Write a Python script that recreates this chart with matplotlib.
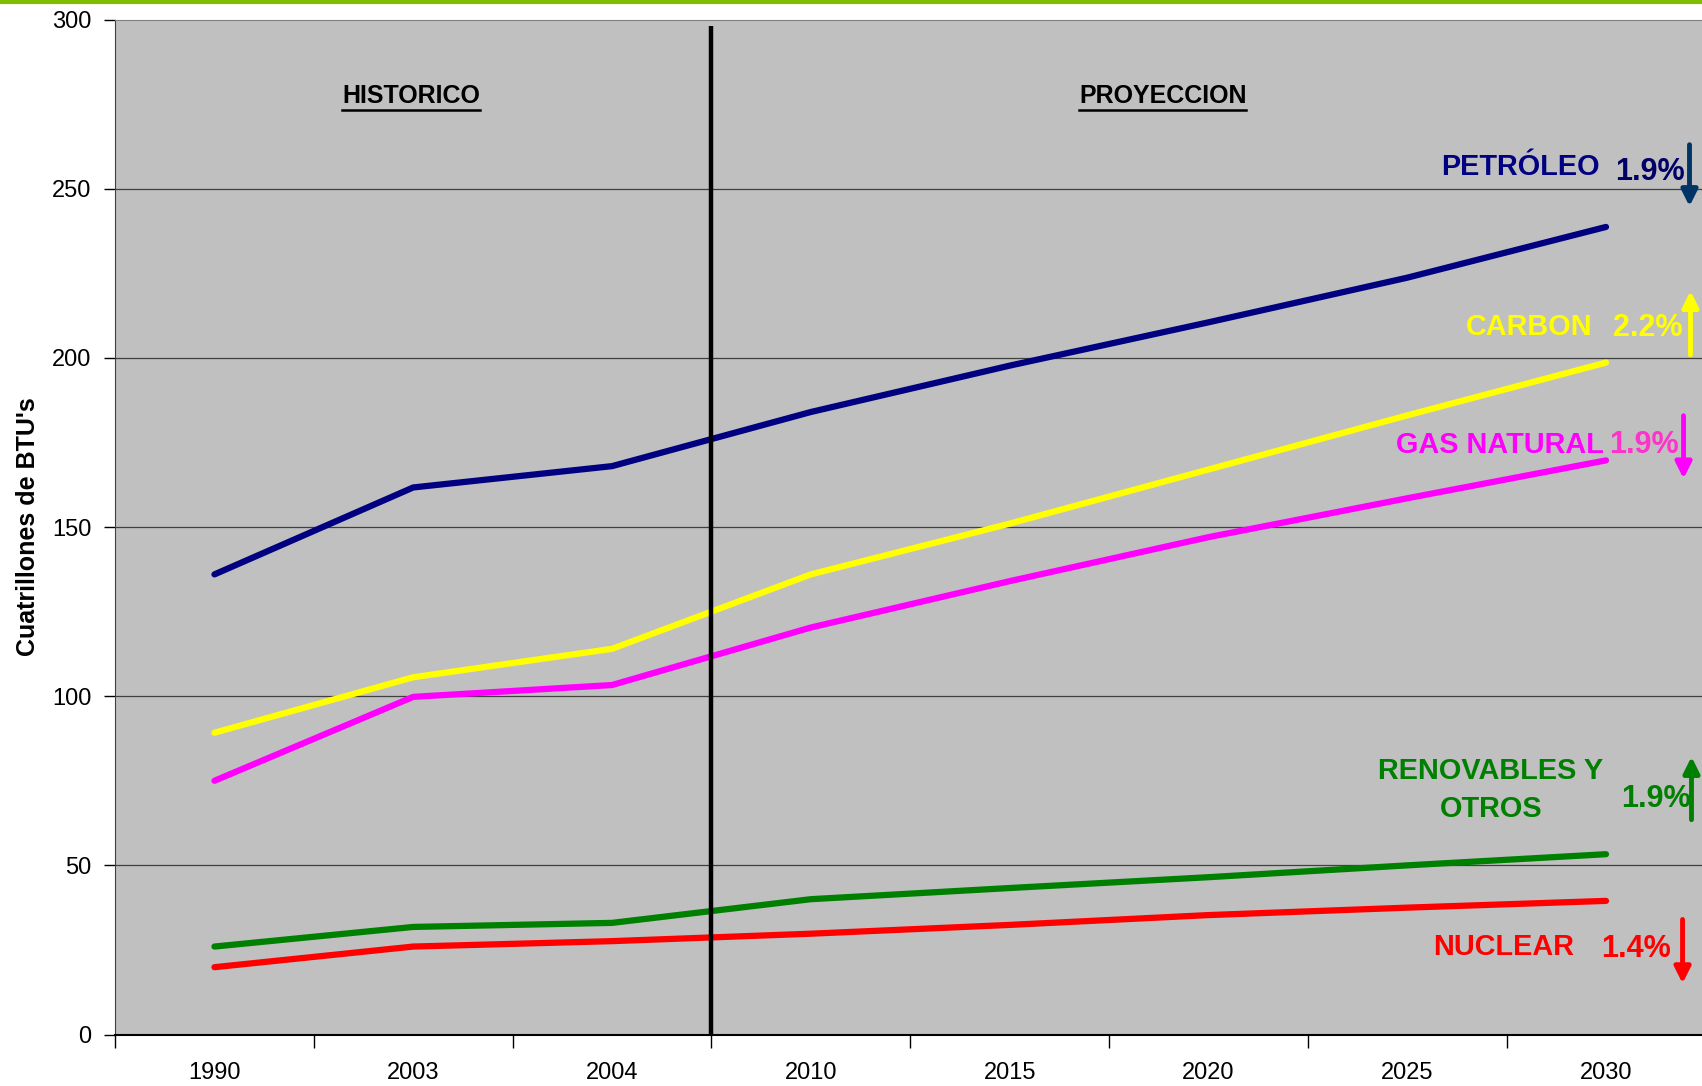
import matplotlib
matplotlib.use("Agg")
import matplotlib.pyplot as plt
from matplotlib.lines import Line2D
import numpy as np

# ---- data ----
categories = ["1990", "2003", "2004", "2010", "2015", "2020", "2025", "2030"]
petroleo = [136, 161.7, 168, 184, 197.7, 210.5, 223.7, 238.7]
carbon = [89.2, 105.6, 114, 136, 151, 167, 183, 198.6]
gas_natural = [75, 99.8, 103.3, 120.3, 134, 147, 158.5, 169.7]
renovables = [26, 31.8, 33, 40, 43.3, 46.5, 50, 53.3]
nuclear = [19.9, 26, 27.6, 29.8, 32.4, 35.3, 37.5, 39.5]

series_names = ["PETRÓLEO", "CARBON", "GAS NATURAL", "RENOVABLES Y\nOTROS", "NUCLEAR"]
series_values = [petroleo, carbon, gas_natural, renovables, nuclear]
series_colors = ["#000080", "#FFFF00", "#FF00FF", "#008000", "#FF0000"]
growth_labels = ["1.9%", "2.2%", "1.9%", "1.9%", "1.4%"]
growth_colors = ["#000066", "#FFFF00", "#FF33CC", "#008000", "#FF0000"]
arrow_colors = ["#003366", "#FFFF00", "#FF00FF", "#008000", "#FF0000"]

yticks = [0, 50, 100, 150, 200, 250, 300]

plt.rcParams['font.family'] = ['Liberation Sans', 'DejaVu Sans']

fig = plt.figure(figsize=(17.02, 10.86), dpi=100)
fig.patch.set_facecolor("white")
ax = fig.add_axes([0.0676, 0.0474, 0.9344, 0.9346])
ax.set_facecolor("#C0C0C0")

x = np.arange(len(categories))
ax.set_xlim(-0.5, len(categories) - 0.5)
ax.set_ylim(0, 300)

for v in [50, 100, 150, 200, 250]:
    ax.axhline(v, color="#404040", lw=0.9, zorder=1)

for vals, col in zip(series_values, series_colors):
    ax.plot(x, vals, color=col, lw=4.5, solid_capstyle="round", zorder=3)

# divider between historical and projection
ax.plot([2.5, 2.5], [0, 298], color="black", lw=3.2, zorder=4, solid_capstyle="butt")

# axes styling
ax.spines["right"].set_visible(False)
ax.spines["top"].set_color("#808080")
ax.spines["left"].set_color("#404040")
ax.spines["bottom"].set_color("black")
ax.spines["bottom"].set_linewidth(1.5)

ax.set_yticks(yticks)
ax.set_yticklabels([str(t) for t in yticks], fontsize=17)
ax.tick_params(axis="y", direction="out", length=8, width=1, pad=9, colors="black")

ax.set_xticks(x)
ax.set_xticklabels(categories, fontsize=17)
ax.set_xticks(np.arange(-0.5, len(categories) + 0.5, 1), minor=True)
ax.tick_params(axis="x", which="major", length=0, pad=20)
ax.tick_params(axis="x", which="minor", length=9, width=1, direction="out")

ax.set_ylabel("Cuatrillones de BTU's", fontsize=18, fontweight="bold", labelpad=9)

# section titles
t1 = ax.text(0.99, 277.5, "HISTORICO", ha="center", va="center", fontsize=18, fontweight="bold")
t2 = ax.text(4.77, 277.5, "PROYECCION", ha="center", va="center", fontsize=18, fontweight="bold")

# right-side labels
name_fs = 20.8
label_pos = [(6.97, 256.4, "right"), (6.93, 209.2, "right"), (6.99, 174.2, "right"),
             (6.42, 0, "center"), (6.84, 26, "right")]
for (lx, ly, ha), name, col in zip(label_pos, series_names, series_colors):
    if "\n" in name:
        l1, l2 = name.split("\n")
        ax.text(lx, 78.0, l1, ha="center", va="center", fontsize=name_fs, fontweight="bold", color=col)
        ax.text(lx, 66.7, l2, ha="center", va="center", fontsize=name_fs, fontweight="bold", color=col)
    else:
        ax.text(lx, ly, name, ha=ha, va="center", fontsize=name_fs, fontweight="bold", color=col)

growth_pos = [(7.22, 254.8), (7.21, 208.8), (7.19, 174.2), (7.25, 69.5), (7.15, 25.4)]
for (gx, gy), g, col in zip(growth_pos, growth_labels, growth_colors):
    ax.text(gx, gy, g, ha="center", va="center", fontsize=22, fontweight="bold", color=col)

arrow_pos = [(7.42, 263, 244.8), (7.425, 200.9, 219.8), (7.39, 182.9, 164.3),
             (7.43, 63.5, 82.1), (7.385, 34, 15.1)]
for (axx, y0, y1), col in zip(arrow_pos, arrow_colors):
    ax.annotate("", xy=(axx, y1), xytext=(axx, y0),
                arrowprops=dict(arrowstyle="-|>", color=col, lw=3.5, mutation_scale=24,
                                shrinkA=0, shrinkB=0),
                annotation_clip=False, zorder=5)

# top green rule
fig.add_artist(Line2D([0, 1], [0.9985, 0.9985], color="#80BC00", lw=3, transform=fig.transFigure))

# underline section titles
fig.canvas.draw()
r = fig.canvas.get_renderer()
for t in (t1, t2):
    bb = t.get_window_extent(r).transformed(fig.transFigure.inverted())
    yline = bb.y0 - 0.002
    fig.add_artist(Line2D([bb.x0, bb.x1], [yline, yline], color="black", lw=1.8,
                          transform=fig.transFigure))

fig.savefig("out.png", dpi=100)
